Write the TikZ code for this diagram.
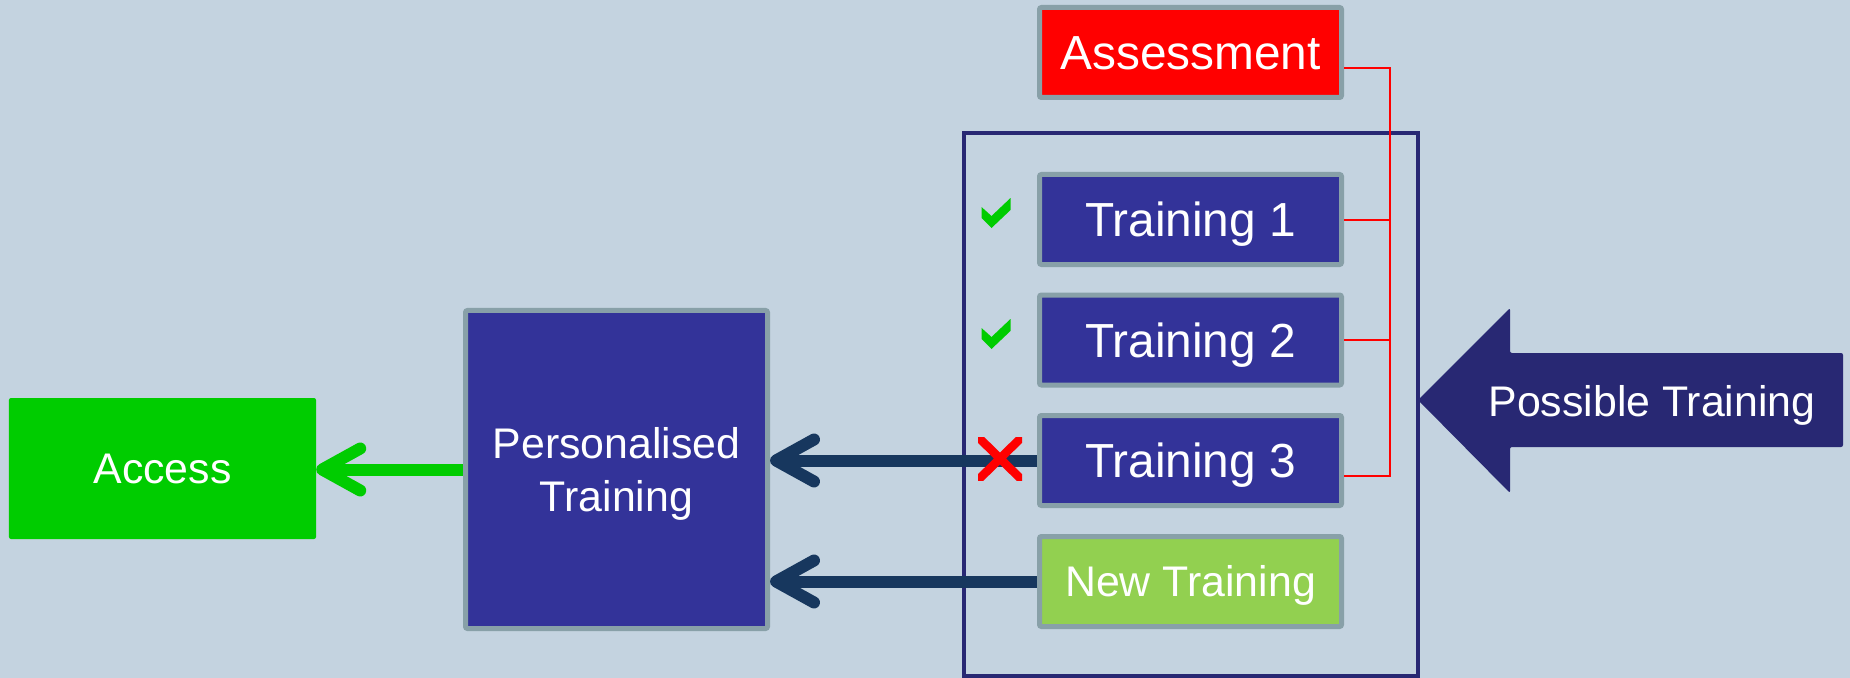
\documentclass[tikz,border=0pt]{standalone}
\usepackage{fontspec}
\setmainfont{Liberation Sans}
\usetikzlibrary{arrows.meta}
\definecolor{bgc}{HTML}{C4D3E0}
\definecolor{bordgray}{HTML}{88A0A8}
\definecolor{boxblue}{HTML}{333399}
\definecolor{newgreen}{HTML}{92D050}
\definecolor{accgreen}{HTML}{00CC00}
\definecolor{framec}{HTML}{282873}
\definecolor{darkarr}{HTML}{17375E}
\begin{document}
\begin{tikzpicture}[x=1bp,y=-1bp,
  box/.style={draw=bordgray, line width=5bp, rounded corners=2bp, fill=boxblue,
    text=white, minimum width=302bp, minimum height=90bp, inner sep=0pt,
    font=\fontsize{48}{58}\selectfont, text height=34.4bp, text depth=0pt},
  smalltext/.style={font=\fontsize{43}{54}\selectfont, text height=30.8bp, text depth=0pt},
  accbox/.style={fill=accgreen, rounded corners=2bp, text=white, minimum width=307bp,
    minimum height=141bp, inner sep=0pt},
  linkarrow/.style={line width=12bp, -{Straight Barb[length=38bp, width=42bp, round]}},
  busline/.style={red, line width=2bp},
  checkmark/.pic={\fill[accgreen] (-14,-6) -- (-4,3) -- (15,-15) -- (15,-3) -- (-4,15) -- (-14,5) -- cycle;}
]
\fill[bgc] (0,0) rectangle (1850,678);
\useasboundingbox (0,0) rectangle (1850,678);

% container frame
\draw[framec, line width=4bp] (964,133) rectangle (1418,676);

% Possible Training arrow
\fill[framec, rounded corners=2bp] (1418,400) -- (1510,308) -- (1510,353) -- (1843,353)
  -- (1843,447) -- (1510,447) -- (1510,493) -- cycle;
\node[smalltext, text=white, inner sep=0pt] (ptext) at (1652,401) {Possible Training};

% boxes
\node[box, fill=red] (assess) at (1190.5,52.5) {Assessment};
\node[box] (t1) at (1190.5,219.5) {Training 1};
\node[box] (t2) at (1190.5,340) {Training 2};
\node[box] (t3) at (1190.5,460.5) {Training 3};
\node[box, fill=newgreen, smalltext] (newt) at (1190.5,581.5) {New Training};
\node[box, minimum height=318bp, smalltext, text height=84.8bp, text depth=0pt, align=center] (pers) at (616.5,469.5) {Personalised\\Training};
\node[accbox, smalltext] (access) at (162.5,468.5) {Access};

% red bus
\coordinate (busx) at (1390,0);
\draw[busline] ([yshift=-15.5bp]assess.east) -- ([yshift=-15.5bp]assess.east -| busx)
  |- ([yshift=-15.5bp]t3.east);
\draw[busline] (t1.east) -- (t1.east -| busx);
\draw[busline] (t2.east) -- (t2.east -| busx);

% arrows
\draw[linkarrow, darkarr] (t3.west) -- (pers.east |- t3.west);
\draw[linkarrow, darkarr] (newt.west) -- (pers.east |- newt.west);
\draw[linkarrow, accgreen] (pers.west) -- (access.east |- pers.west);

% marks
\path (t1.west) ++(-41.5,-6.5) pic {checkmark};
\path (t2.west) ++(-41.5,-6) pic {checkmark};
\begin{scope}
  \clip (978,437) rectangle (1022,480);
  \draw[red, line width=8.5bp] (975,434) -- (1025,483) (1025,434) -- (975,483);
\end{scope}
\end{tikzpicture}
\end{document}
